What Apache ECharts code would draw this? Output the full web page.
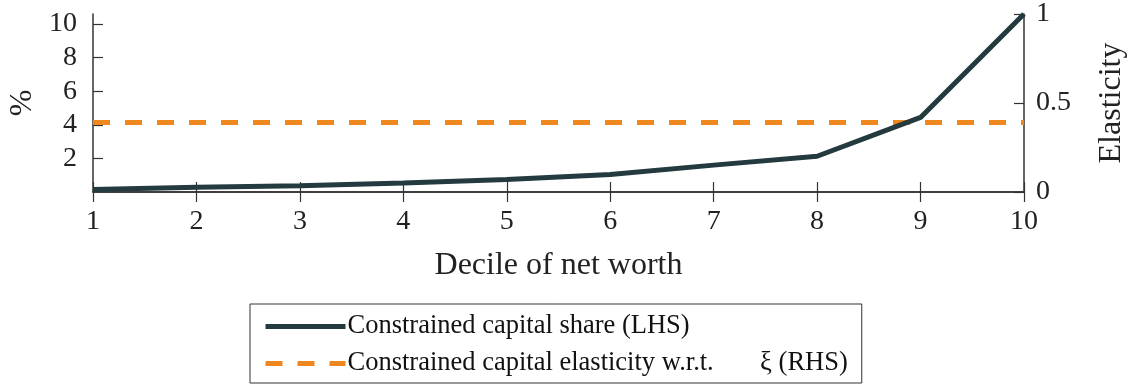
<!DOCTYPE html>
<html>
<head>
<meta charset="utf-8">
<script src="https://cdn.jsdelivr.net/npm/echarts@6/dist/echarts.min.js"></script>
<style>html,body{margin:0;padding:0;background:#fff}#c{width:1130px;height:384px}</style>
</head>
<body>
<div id="c"></div>
<script>
const deciles = ['1','2','3','4','5','6','7','8','9','10'];
const capitalShare = [0.15, 0.28, 0.37, 0.53, 0.74, 1.04, 1.6, 2.13, 4.44, 10.6];
const capitalElasticity = [0.39, 0.39, 0.39, 0.39, 0.39, 0.39, 0.39, 0.39, 0.39, 0.39];
const shareName = 'Constrained capital share (LHS)';
const elastName = 'Constrained capital elasticity w.r.t.       \u03BE (RHS)';

const FONT = 'Liberation Serif';
const axisCol = '#333';
const chart = echarts.init(document.getElementById('c'), null, {renderer: 'canvas'});
chart.setOption({
  animation: false,
  backgroundColor: '#fff',
  textStyle: {fontFamily: FONT},
  grid: {left: 93, right: 106, top: 14, bottom: 192, containLabel: false, outerBoundsMode: 'none'},
  xAxis: [{
    type: 'category', data: deciles, boundaryGap: false, position: 'bottom',
    name: 'Decile of net worth', nameLocation: 'middle', nameGap: 58,
    nameTextStyle: {fontFamily: FONT, fontSize: 32, color: '#222'},
    axisLine: {lineStyle: {color: axisCol, width: 1.5}},
    axisTick: {inside: true, length: 10, lineStyle: {color: axisCol, width: 1.2}},
    axisLabel: {fontFamily: FONT, fontSize: 28, color: '#222', margin: 16},
    splitLine: {show: false}
  }, {
    type: 'category', data: deciles, boundaryGap: false, position: 'top',
    axisLine: {lineStyle: {color: axisCol, width: 1.5}},
    axisTick: {inside: true, length: 10, lineStyle: {color: axisCol, width: 1.2}},
    axisLabel: {show: false}, splitLine: {show: false}
  }],
  yAxis: [{
    type: 'value', min: 0, max: 10.6, interval: 2, position: 'left',
    name: '%', nameLocation: 'middle', nameGap: 52, nameRotate: 90,
    nameTextStyle: {fontFamily: FONT, fontSize: 32, color: '#222'},
    axisLine: {show: true, lineStyle: {color: axisCol, width: 1.5}},
    axisTick: {show: true, inside: true, length: 10, lineStyle: {color: axisCol, width: 1.2}},
    axisLabel: {fontFamily: FONT, fontSize: 28, color: '#222', margin: 16, showMinLabel: false, showMaxLabel: false},
    splitLine: {show: false}
  }, {
    type: 'value', min: 0, max: 1, interval: 0.5, position: 'right',
    name: 'Elasticity', nameLocation: 'middle', nameGap: 72, nameRotate: 90,
    nameTextStyle: {fontFamily: FONT, fontSize: 32, color: '#222'},
    axisLine: {show: true, lineStyle: {color: axisCol, width: 1.5}},
    axisTick: {show: true, inside: true, length: 10, lineStyle: {color: axisCol, width: 1.2}},
    axisLabel: {fontFamily: FONT, fontSize: 28, color: '#222', margin: 12},
    splitLine: {show: false}
  }],
  legend: {
    orient: 'vertical', left: 250, top: 304,
    padding: [9, 14, 6, 13], itemGap: 10,
    itemWidth: 80, itemHeight: 14,
    borderColor: '#333', borderWidth: 1, borderRadius: 0,
    itemStyle: {opacity: 0},
    lineStyle: {width: 5},
    textStyle: {fontFamily: FONT, fontSize: 26.5, color: '#111', padding: [0,0,0,-3]},
    data: [shareName, elastName]
  },
  series: [{
    name: shareName, type: 'line', xAxisIndex: 0, yAxisIndex: 0,
    data: capitalShare, symbol: 'none', smooth: false,
    lineStyle: {color: '#233a3e', width: 5},
    itemStyle: {color: '#233a3e'}, z: 3
  }, {
    name: elastName, type: 'line', xAxisIndex: 0, yAxisIndex: 1,
    data: capitalElasticity, symbol: 'none',
    lineStyle: {color: '#ef861e', width: 5, type: [17, 15]},
    itemStyle: {color: '#ef861e'}, z: 2
  }]
});
</script>
</body>
</html>
